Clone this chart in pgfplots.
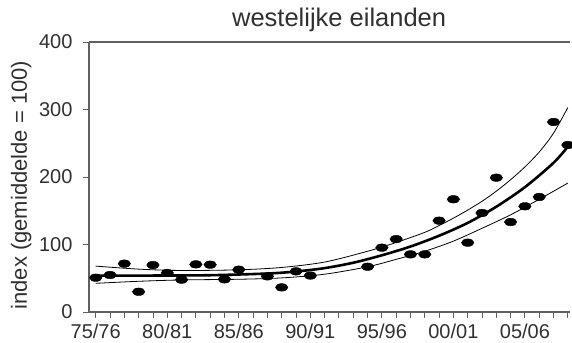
\documentclass[border=0pt]{standalone}
\usepackage{pgfplots}
\pgfplotsset{compat=1.18}
\usepackage{fontspec}
\setmainfont{Liberation Sans}
\definecolor{axgray}{HTML}{606060}
\definecolor{txt}{HTML}{303030}
\begin{document}
\begin{tikzpicture}
\useasboundingbox (-89bp,-31bp) rectangle (483bp,312bp);
\begin{axis}[
  scale only axis, width=481bp, height=270bp,
  at={(0bp,0bp)}, anchor=south west,
  xmin=-0.47, xmax=33.15, ymin=0, ymax=400,
  clip=false,
  axis lines*=left,
  axis line style={axgray, line width=1.2bp, -},
  xtick={0,...,33},
  xticklabels={75/76,,,,,80/81,,,,,85/86,,,,,90/91,,,,,95/96,,,,,00/01,,,,,05/06,,,},
  ytick={0,100,200,300,400},
  tick align=outside,
  major tick length=6bp,
  tick style={axgray, line width=0.9bp},
  ticklabel style={font=\fontsize{20bp}{24bp}\selectfont, text=txt},
  xticklabel style={yshift=-2.5bp},
  yticklabel style={xshift=-7bp},
  /pgf/number format/assume math mode=true,
  ylabel={index (gemiddelde = 100)},
  ylabel style={at={(axis description cs:-0.141,0.47)}, anchor=center, font=\fontsize{22bp}{26bp}\selectfont, text=txt},
  title={westelijke eilanden},
  title style={at={(axis description cs:0.52,1)}, anchor=base, yshift=10bp, font=\fontsize{25.5bp}{30bp}\selectfont, text=txt},
]
\draw[axgray, line width=1.2bp] (rel axis cs:0,1) -- (rel axis cs:1,1);
% upper band
\addplot[black, line width=0.8bp, smooth] coordinates {
(0,68) (3,63.5) (6,61.5) (10,62.5) (13,66) (16,74) (19,90) (21,103) (23,118) (24,128) (25,139) (26,151) (27,164) (28,179) (29,196) (30,215) (31,237) (32,265) (33,303)};
% lower band
\addplot[black, line width=0.8bp, smooth] coordinates {
(0,42.5) (3,45.5) (6,47.5) (10,48.5) (13,50.5) (16,56) (19,67) (21,78) (23,90) (25,105) (27,124) (29,144) (31,167) (33,191)};
% fitted trend
\addplot[black, line width=2.6bp, smooth] coordinates {
(0,54) (4,54) (8,54.5) (12,57) (14,60) (16,65) (18,73) (20,84) (22,97) (24,113) (26,132) (28,156) (30,185) (32,221) (33,245)};
% observations
\addplot[only marks, mark=*, mark size=3.8bp, mark options={xscale=1.65, black, fill=black}] coordinates {
(0,50.8) (1,54.8) (2,71.6) (3,30) (4,69.6) (5,57.8) (6,47.9) (7,70.6) (8,70.1) (9,48.4) (10,62.7)
(12,52.8) (13,36.5) (14,60.2) (15,54)
(19,67.1) (20,95.3) (21,108) (22,85.4) (23,85.4) (24,135.3) (25,167) (26,102.7) (27,146.7) (28,199) (29,133.3) (30,156.6) (31,170.4) (32,281.5) (33,247.4)};
\end{axis}
\end{tikzpicture}
\end{document}
